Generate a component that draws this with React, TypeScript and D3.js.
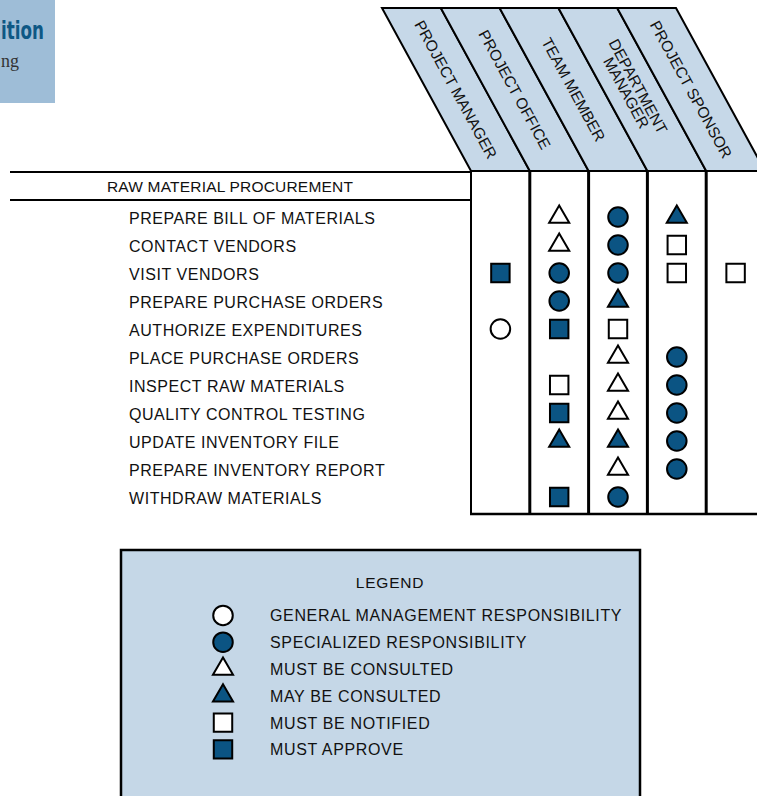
import React from 'react';
import * as d3 from 'd3';

// roles across the top (header lines per role)
const roles = ['PM', 'PO', 'TM', 'DM', 'PS'];
const roleLabels: string[][] = [
  ['PROJECT MANAGER'],
  ['PROJECT OFFICE'],
  ['TEAM MEMBER'],
  ['DEPARTMENT', 'MANAGER'],
  ['PROJECT SPONSOR'],
];

const sectionTitle = 'RAW MATERIAL PROCUREMENT';

const tasks = [
  'PREPARE BILL OF MATERIALS',
  'CONTACT VENDORS',
  'VISIT VENDORS',
  'PREPARE PURCHASE ORDERS',
  'AUTHORIZE EXPENDITURES',
  'PLACE PURCHASE ORDERS',
  'INSPECT RAW MATERIALS',
  'QUALITY CONTROL TESTING',
  'UPDATE INVENTORY FILE',
  'PREPARE INVENTORY REPORT',
  'WITHDRAW MATERIALS',
];

// one code per role, in the order of `roles`
// G general mgmt, S specialized, C must consult, M may consult, N notified, A approve
const assignments: string[][] = [
  ['', 'C', 'S', 'M', ''],
  ['', 'C', 'S', 'N', ''],
  ['A', 'S', 'S', 'N', 'N'],
  ['', 'S', 'M', '', ''],
  ['G', 'A', 'N', '', ''],
  ['', '', 'C', 'S', ''],
  ['', 'N', 'C', 'S', ''],
  ['', 'A', 'C', 'S', ''],
  ['', 'M', 'M', 'S', ''],
  ['', '', 'C', 'S', ''],
  ['', 'A', 'S', '', ''],
];

const legendCodes = ['G', 'S', 'C', 'M', 'N', 'A'];
const legendLabels = [
  'GENERAL MANAGEMENT RESPONSIBILITY',
  'SPECIALIZED RESPONSIBILITY',
  'MUST BE CONSULTED',
  'MAY BE CONSULTED',
  'MUST BE NOTIFIED',
  'MUST APPROVE',
];

const BLUE = '#0b5483';
const HEADER_FILL = '#c6d8e8';
const FONT = '"Liberation Sans", Arial, sans-serif';

const symbolFor: Record<string, { type: d3.SymbolType; size: number; filled: boolean }> = {
  G: { type: d3.symbolCircle, size: 300, filled: false },
  S: { type: d3.symbolCircle, size: 300, filled: true },
  C: { type: d3.symbolTriangle, size: 175, filled: false },
  M: { type: d3.symbolTriangle, size: 175, filled: true },
  N: { type: d3.symbolSquare, size: 340, filled: false },
  A: { type: d3.symbolSquare, size: 340, filled: true },
};

const Mark = ({ code, x, y }: { code: string; x: number; y: number }) => {
  const s = symbolFor[code];
  const d = d3.symbol(s.type, s.size)() || '';
  return (
    <path
      d={d}
      transform={`translate(${x},${y})`}
      fill={s.filled ? BLUE : '#fff'}
      stroke="#000"
      strokeWidth={2}
      strokeLinejoin="miter"
    />
  );
};

export default function App() {
  const width = 757;
  const height = 796;

  const headerTop = 8;
  const headerBottom = 171;
  const tableBottom = 514;
  const lineLeft = 10;

  const x = d3.scaleBand<string>().domain(roles).range([471, 471 + 58.8 * roles.length]);
  const y = d3.scaleBand<string>().domain(tasks).range([203.5, 203.5 + 28 * tasks.length]);

  const slant = 89; // horizontal offset of the header's top edge
  const angle = (Math.atan2(headerBottom - headerTop, slant) * 180) / Math.PI;

  const legend = d3.scaleBand<string>().domain(legendCodes).range([602, 602 + 26.8 * legendCodes.length]);

  return (
    <svg
      width={width}
      height={height}
      style={{ position: 'absolute', left: 0, top: 0, background: '#fff' }}
      fontFamily={FONT}
    >
      {/* corner fragment of the page */}
      <rect x={0} y={0} width={55} height={103} fill="#9ebdd7" />
      <text
        x={1}
        y={39}
        textLength={43}
        lengthAdjust="spacingAndGlyphs"
        fontFamily='"DejaVu Sans Condensed", "DejaVu Sans", sans-serif'
        fontWeight="bold"
        fontSize={25}
        fill="#0e5885"
      >
        ition
      </text>
      <text x={1} y={67} fontFamily='"Liberation Serif", serif' fontSize={18} fill="#333">
        ng
      </text>

      {/* slanted header strips */}
      {roles.map((r, i) => {
        const x0 = x(r)!;
        const x1 = x0 + x.bandwidth();
        const pts = [
          [x0 - slant, headerTop],
          [x1 - slant, headerTop],
          [x1, headerBottom],
          [x0, headerBottom],
        ];
        const midY = (headerTop + headerBottom) / 2;
        const cx = x0 + x.bandwidth() / 2 - slant / 2;
        const lines = roleLabels[i];
        return (
          <g key={r}>
            <polygon
              points={pts.map((p) => p.join(',')).join(' ')}
              fill={HEADER_FILL}
              stroke="#000"
              strokeWidth={2}
              strokeLinejoin="miter"
            />
            <text
              transform={`translate(${cx},${midY}) rotate(${angle})`}
              textAnchor="middle"
              fontSize={15.5}
              fill="#111"
            >
              {lines.map((l, j) => (
                <tspan key={l} x={0} y={(j - (lines.length - 1) / 2) * 13.5 + 5.5}>
                  {l}
                </tspan>
              ))}
            </text>
          </g>
        );
      })}

      {/* section row */}
      <line x1={lineLeft} x2={471} y1={172} y2={172} stroke="#000" strokeWidth={2} />
      <line x1={lineLeft} x2={471} y1={200} y2={200} stroke="#000" strokeWidth={2} />
      <text x={230} y={192} textAnchor="middle" fontSize={15.5} letterSpacing={0.2} fill="#111">
        {sectionTitle}
      </text>

      {/* task labels */}
      {tasks.map((t) => (
        <text key={t} x={129} y={y(t)! + y.bandwidth() / 2 + 6} fontSize={16} letterSpacing={0.55} fill="#111">
          {t}
        </text>
      ))}

      {/* column rules */}
      {roles.map((r, i) => (
        <line
          key={r}
          x1={x(r)!}
          x2={x(r)!}
          y1={headerBottom}
          y2={tableBottom}
          stroke="#000"
          strokeWidth={i === 0 ? 2 : 3}
        />
      ))}
      <line x1={x(roles[4])! + x.bandwidth()} x2={x(roles[4])! + x.bandwidth()} y1={headerBottom} y2={tableBottom} stroke="#000" strokeWidth={3} />
      <line x1={470} x2={width} y1={tableBottom} y2={tableBottom} stroke="#000" strokeWidth={2.5} />

      {/* responsibility marks */}
      {tasks.map((t, ti) =>
        roles.map((r, ri) => {
          const code = assignments[ti][ri];
          if (!code) return null;
          return (
            <Mark
              key={`${t}-${r}`}
              code={code}
              x={x(r)! + x.bandwidth() / 2}
              y={y(t)! + y.bandwidth() / 2 - 0.5}
            />
          );
        })
      )}

      {/* legend */}
      <rect x={121} y={550} width={519} height={270} fill="#c5d7e7" stroke="#000" strokeWidth={2.5} />
      <text x={390} y={588} textAnchor="middle" fontSize={15.5} letterSpacing={0.8} fill="#111">
        LEGEND
      </text>
      {legendCodes.map((c, i) => {
        const cy = legend(c)! + legend.bandwidth() / 2;
        return (
          <g key={c}>
            <Mark code={c} x={223} y={cy} />
            <text x={270} y={cy + 6} fontSize={16} letterSpacing={0.65} fill="#111">
              {legendLabels[i]}
            </text>
          </g>
        );
      })}
    </svg>
  );
}
